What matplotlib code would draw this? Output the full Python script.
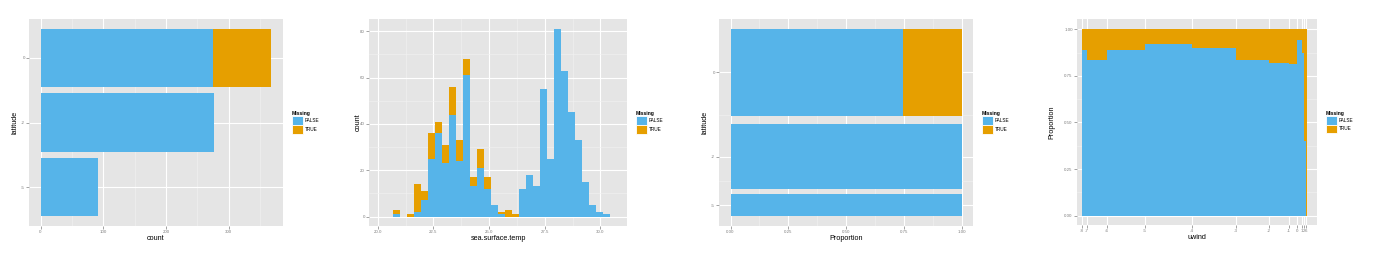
import numpy as np
import matplotlib
matplotlib.use('Agg')
import matplotlib.pyplot as plt
from matplotlib.patches import Patch
from matplotlib.ticker import FixedLocator, MultipleLocator

plt.rcParams['font.family'] = ['Liberation Sans', 'DejaVu Sans']

BLUE = '#56B4E9'
ORANGE = '#E69F00'
PANEL = '#E5E5E5'
MINOR = '#F2F2F2'
TICKC = '#7F7F7F'

# ---------------- data ----------------
# Panel 1 / 3 : latitude counts by Missing
lat_levels = ['-5', '-2', '0']
lat_false = [92, 276, 275]
lat_true = [0, 0, 93]

# Panel 2 : histogram of sea.surface.temp (stacked by Missing)
sst_bin_start = 20.674
sst_bin_width = 0.315
sst_false = [1, 0, 0, 2, 7, 25, 36, 23, 44, 24, 61, 13, 21, 12, 5, 1, 0, 0,
             12, 18, 13, 55, 25, 81, 63, 45, 33, 15, 5, 2, 1]
sst_true = [2, 0, 1, 12, 4, 11, 5, 8, 12, 9, 7, 4, 8, 5, 0, 1, 3, 1,
            0, 0, 0, 0, 0, 0, 0, 0, 0, 0, 0, 0, 0]

# Panel 4 : spine plot of uwind
uwind_levels = ['-8', '-7', '-6', '-5', '-4', '-3', '-2', '-1', '0', '1', '2', '6']
uwind_count = [16, 67, 123, 155, 143, 109, 65, 27, 16, 7, 5, 3]
uwind_prop_false = [0.89, 0.835, 0.89, 0.92, 0.90, 0.835, 0.82, 0.815, 0.94, 0.875, 0.40, 0.0]

# ---------------- layout ----------------
W, H = 1388, 264
fig = plt.figure(figsize=(W / 100, H / 100), dpi=100)


def make_ax(x0, x1, y0, y1):
    return fig.add_axes([x0 / W, 1 - y1 / H, (x1 - x0) / W, (y1 - y0) / H])


def style(ax, ylab_off, xlab, ylab):
    ax.set_facecolor(PANEL)
    for s in ax.spines.values():
        s.set_visible(False)
    ax.set_axisbelow(True)
    ax.grid(which='major', color='white', linewidth=0.8)
    ax.grid(which='minor', color=MINOR, linewidth=0.4)
    ax.tick_params(which='major', length=2, width=0.5, color=TICKC,
                   labelsize=3.2, labelcolor=TICKC, pad=0.9)
    ax.tick_params(which='minor', length=0)
    bb = ax.get_position()
    hpx = bb.height * H
    wpx = bb.width * W
    ax.set_xlabel(xlab, fontsize=5.2, va='center')
    ax.xaxis.set_label_coords(0.5, -12.5 / hpx)
    ax.set_ylabel(ylab, fontsize=5.2, va='center')
    ax.yaxis.set_label_coords(-ylab_off / wpx, 0.5)


def legend(ax):
    handles = [Patch(facecolor=BLUE, edgecolor='white', linewidth=0.6, label='FALSE'),
               Patch(facecolor=ORANGE, edgecolor='white', linewidth=0.6, label='TRUE')]
    wpx = ax.get_position().width * W
    lg = ax.legend(handles=handles, title='Missing', loc='center left',
                   bbox_to_anchor=(1 + 8.5 / wpx, 0.5), frameon=False,
                   fontsize=3.4, title_fontsize=3.6, handlelength=2.4,
                   handleheight=2.4, labelspacing=0.0, handletextpad=0.4,
                   borderpad=0, borderaxespad=0, alignment='left')
    lg.get_title().set_fontweight('bold')


# ---------------- Panel 1 ----------------
ax1 = make_ax(29, 283, 19, 226)
ypos = np.arange(1, len(lat_levels) + 1)
ax1.barh(ypos, lat_false, height=0.9, color=BLUE, linewidth=0)
ax1.barh(ypos, lat_true, left=lat_false, height=0.9, color=ORANGE, linewidth=0)
tot1 = max(f + t for f, t in zip(lat_false, lat_true))
ax1.set_xlim(-0.05 * tot1, 1.05 * tot1)
ax1.set_ylim(0.4, len(lat_levels) + 0.6)
ax1.xaxis.set_major_locator(MultipleLocator(100))
ax1.xaxis.set_minor_locator(MultipleLocator(50))
ax1.set_yticks(ypos)
ax1.set_yticklabels(lat_levels)
style(ax1, 14, 'count', 'latitude')
legend(ax1)

# ---------------- Panel 2 ----------------
ax2 = make_ax(369, 627.3, 19, 226)
edges = sst_bin_start + sst_bin_width * np.arange(len(sst_false))
ax2.bar(edges, sst_false, width=sst_bin_width, align='edge', color=BLUE, linewidth=0)
ax2.bar(edges, sst_true, bottom=sst_false, width=sst_bin_width, align='edge',
        color=ORANGE, linewidth=0)
ax2.set_xlim(19.61, 31.21)
ymax2 = max(f + t for f, t in zip(sst_false, sst_true))
ax2.set_ylim(-0.05 * ymax2, 1.053 * ymax2)
ax2.xaxis.set_major_locator(MultipleLocator(2.5))
ax2.xaxis.set_minor_locator(MultipleLocator(1.25))
ax2.xaxis.set_major_formatter(matplotlib.ticker.FormatStrFormatter('%.1f'))
ax2.yaxis.set_major_locator(MultipleLocator(20))
ax2.yaxis.set_minor_locator(MultipleLocator(10))
style(ax2, 11, 'sea.surface.temp', 'count')
legend(ax2)

# ---------------- Panel 3 ----------------
ax3 = make_ax(719, 973.3, 19, 226)
lat_gap = [21, 37]
lat_tot = [f + t for f, t in zip(lat_false, lat_true)]
bottoms = []
cur = 0
for i, n in enumerate(lat_tot):
    bottoms.append(cur)
    cur += n + (lat_gap[i] if i < len(lat_gap) else 0)
ymax3 = cur
prop_f = [f / n for f, n in zip(lat_false, lat_tot)]
prop_t = [t / n for t, n in zip(lat_true, lat_tot)]
ax3.barh(bottoms, prop_f, height=lat_tot, align='edge', color=BLUE, linewidth=0)
ax3.barh(bottoms, prop_t, left=prop_f, height=lat_tot, align='edge', color=ORANGE, linewidth=0)
centers = [b + n / 2 for b, n in zip(bottoms, lat_tot)]
ax3.set_yticks(centers)
ax3.set_yticklabels(lat_levels)
ax3.yaxis.set_minor_locator(FixedLocator([(centers[0] + centers[1]) / 2,
                                          (centers[1] + centers[2]) / 2]))
ax3.set_ylim(-0.054 * ymax3, 1.054 * ymax3)
ax3.set_xlim(-0.05, 1.05)
ax3.xaxis.set_major_locator(MultipleLocator(0.25))
ax3.xaxis.set_minor_locator(MultipleLocator(0.125))
ax3.xaxis.set_major_formatter(matplotlib.ticker.FormatStrFormatter('%.2f'))
style(ax3, 14, 'Proportion', 'latitude')
legend(ax3)

# ---------------- Panel 4 ----------------
ax4 = make_ax(1076.7, 1317.3, 19, 225)
lefts = np.concatenate([[0], np.cumsum(uwind_count)[:-1]])
pt = [1 - p for p in uwind_prop_false]
ax4.bar(lefts, uwind_prop_false, width=uwind_count, align='edge', color=BLUE, linewidth=0)
ax4.bar(lefts, pt, bottom=uwind_prop_false, width=uwind_count, align='edge',
        color=ORANGE, linewidth=0)
total4 = sum(uwind_count)
ax4.set_xlim(-0.022 * total4, 1.047 * total4)
ax4.set_ylim(-0.05, 1.055)
ax4.set_xticks(lefts)
ax4.set_xticklabels(uwind_levels)
ax4.yaxis.set_major_locator(MultipleLocator(0.25))
ax4.yaxis.set_minor_locator(MultipleLocator(0.125))
ax4.yaxis.set_major_formatter(matplotlib.ticker.FormatStrFormatter('%.2f'))
style(ax4, 25, 'uwind', 'Proportion')
legend(ax4)

fig.savefig('out.png', dpi=100, facecolor='white')
